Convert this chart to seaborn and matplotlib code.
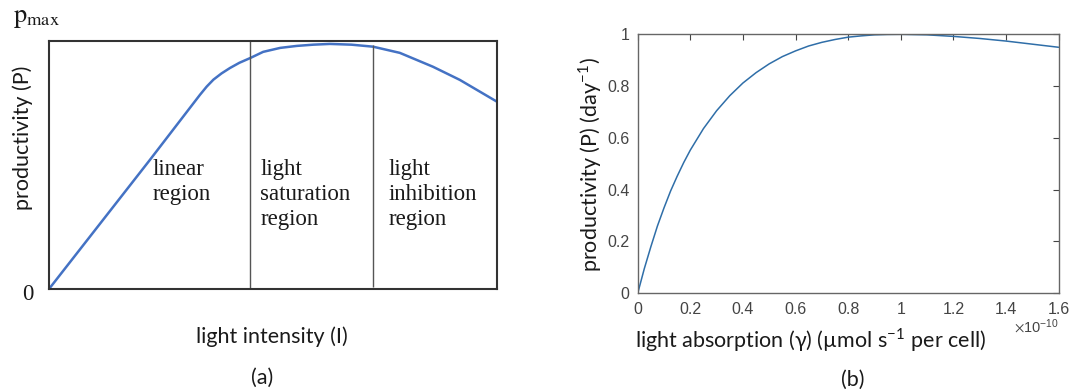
import matplotlib
matplotlib.use("Agg")
import matplotlib.pyplot as plt
import seaborn as sns
import pandas as pd
from matplotlib.ticker import FuncFormatter

# ---------------- data ----------------
# (a) schematic P-I curve, normalised light intensity vs normalised productivity
intensity_a = [0.0, 0.225, 0.337, 0.352, 0.367, 0.385, 0.404, 0.425, 0.449,
               0.478, 0.516, 0.553, 0.590, 0.627, 0.675, 0.723, 0.783, 0.857,
               0.917, 1.0]
productivity_a = [0.0, 0.52, 0.783, 0.816, 0.844, 0.869, 0.891, 0.912, 0.931,
                  0.956, 0.972, 0.980, 0.985, 0.988, 0.985, 0.977, 0.952, 0.896,
                  0.843, 0.755]
region_bounds = [0.449, 0.723]
region_labels = ["linear\nregion", "light\nsaturation\nregion", "light\ninhibition\nregion"]

# (b) modelled productivity vs light absorption (x in units of 1e-10)
absorption_e10 = [0.0, 0.025, 0.05, 0.075, 0.1, 0.125, 0.15, 0.175, 0.2, 0.25,
                  0.3, 0.35, 0.4, 0.45, 0.5, 0.55, 0.6, 0.65, 0.7, 0.75, 0.8,
                  0.85, 0.9, 0.95, 1.0, 1.1, 1.2, 1.3, 1.4, 1.5, 1.6]
productivity_b = [0.0, 0.095, 0.18, 0.26, 0.33, 0.395, 0.452, 0.505, 0.553,
                  0.636, 0.705, 0.763, 0.812, 0.852, 0.886, 0.914, 0.936, 0.955,
                  0.969, 0.980, 0.989, 0.994, 0.998, 0.9995, 1.0, 0.998, 0.992,
                  0.984, 0.974, 0.962, 0.950]
xticks_b = [0, 0.2, 0.4, 0.6, 0.8, 1.0, 1.2, 1.4, 1.6]
yticks_b = [0, 0.2, 0.4, 0.6, 0.8, 1.0]

# ---------------- style ----------------
sns.set_style("white")
plt.rcParams["font.family"] = ["Lato", "DejaVu Sans"]
plt.rcParams["mathtext.fontset"] = "stix"

fig = plt.figure(figsize=(10.7, 3.9), dpi=100)

# ---------------- panel (a) ----------------
axa = fig.add_axes([0.0458, 0.259, 0.4187, 0.636])
dfa = pd.DataFrame({"I": intensity_a, "P": productivity_a})
sns.lineplot(data=dfa, x="I", y="P", ax=axa, color="#4472C4", linewidth=1.8,
             sort=False, estimator=None)
axa.set_xlim(0, 1)
axa.set_ylim(0, 1)
axa.set_xticks([])
axa.set_yticks([])
for s in axa.spines.values():
    s.set_color("#333333")
    s.set_linewidth(1.5)
axa.vlines(region_bounds[0], 0, 1, color="#555555", linewidth=1.0)
axa.vlines(region_bounds[1], 0.01, 0.985, color="#555555", linewidth=1.0)

serif = ["Liberation Serif", "DejaVu Serif"]
label_x = [0.232, 0.472, 0.757]
for lx, txt in zip(label_x, region_labels):
    axa.text(lx, 0.525, txt, transform=axa.transAxes, ha="left", va="top",
             fontsize=16.5, family=serif, color="#1a1a1a", linespacing=1.25)

axa.set_xlabel("light intensity (I)", fontsize=15.5, color="#1a1a1a")
axa.xaxis.set_label_coords(0.498, -0.194)
axa.xaxis.label.set_va("center")
axa.set_ylabel("productivity (P)", fontsize=15.5, color="#1a1a1a")
axa.yaxis.set_label_coords(-0.059, 0.611)
axa.yaxis.label.set_va("center")

fig.text(13 / 1070, 1 - 17 / 390, r"$\mathrm{p}_{\mathrm{max}}$", fontsize=19,
         ha="left", va="center", color="#1a1a1a")
fig.text(28 / 1070, 1 - 295 / 390, "0", fontsize=16.5, family=serif,
         ha="center", va="center", color="#1a1a1a")
fig.text(262 / 1070, 1 - 378 / 390, "(a)", fontsize=15.5, ha="center",
         va="center", color="#1a1a1a")

# ---------------- panel (b) ----------------
axb = fig.add_axes([0.596, 0.248, 0.3933, 0.664])
dfb = pd.DataFrame({"g": absorption_e10, "P": productivity_b})
sns.lineplot(data=dfb, x="g", y="P", ax=axb, color="#2f6ea8", linewidth=1.1,
             sort=False, estimator=None)
axb.set_xlim(0, 1.6)
axb.set_ylim(0, 1)
axb.set_xticks(xticks_b)
axb.set_yticks(yticks_b)
fmt = FuncFormatter(lambda v, p: f"{v:g}")
axb.xaxis.set_major_formatter(fmt)
axb.yaxis.set_major_formatter(fmt)
axb.tick_params(direction="in", length=4, width=0.8, color="#444444",
                top=True, right=True, labelsize=11.5, labelcolor="#444444",
                pad=6)
for lab in axb.get_xticklabels() + axb.get_yticklabels():
    lab.set_family(["Liberation Sans", "DejaVu Sans"])
for s in axb.spines.values():
    s.set_color("#666666")
    s.set_linewidth(1.0)

axb.set_xlabel(r"light absorption (γ) (µmol s$^{\mathregular{-1}}$ per cell)",
               fontsize=15.5, color="#1a1a1a")
axb.xaxis.set_label_coords(0.41, -0.18)
axb.xaxis.label.set_va("center")
axb.set_ylabel(r"productivity (P) (day$^{\mathregular{-1}}$)", fontsize=15.5,
               color="#1a1a1a")
axb.yaxis.set_label_coords(-0.113, 0.495)
axb.yaxis.label.set_va("center")
axb.text(1.0, -0.128, r"$\times\mathregular{10^{-10}}$", transform=axb.transAxes,
         ha="right", va="center", fontsize=10.5, color="#444444",
         family=["Liberation Sans", "DejaVu Sans"])
fig.text(853 / 1070, 1 - 380 / 390, "(b)", fontsize=15.5, ha="center",
         va="center", color="#1a1a1a")

fig.savefig("out.png", dpi=100)
